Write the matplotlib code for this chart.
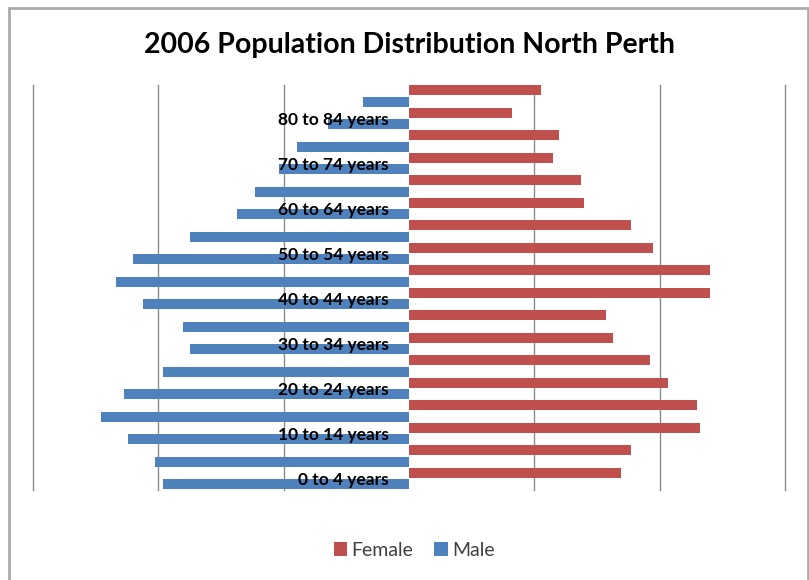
import matplotlib
matplotlib.use("Agg")
import matplotlib.pyplot as plt
import numpy as np
from matplotlib.patches import Rectangle

# Age groups from youngest to oldest
age_groups = ["0 to 4 years", "5 to 9 years", "10 to 14 years", "15 to 19 years",
              "20 to 24 years", "25 to 29 years", "30 to 34 years", "35 to 39 years",
              "40 to 44 years", "45 to 49 years", "50 to 54 years", "55 to 59 years",
              "60 to 64 years", "65 to 69 years", "70 to 74 years", "75 to 79 years",
              "80 to 84 years", "85 years and over"]

female = [339, 355, 465, 459, 414, 384, 325, 314, 480, 480, 390, 355,
          280, 275, 229, 240, 165, 210]
male = [393, 405, 449, 491, 454, 393, 350, 360, 424, 468, 440, 350,
        275, 245, 208, 178, 130, 74]

x_ticks = [-600, -400, -200, 0, 200, 400, 600]

RED = "#C0504D"
BLUE = "#4F81BD"
FONT = ["Lato", "DejaVu Sans"]

fig = plt.figure(figsize=(8.09, 5.8), dpi=100)
fig.patch.set_facecolor("white")

# outer chart border
fig.patches.append(Rectangle((9 / 809, -0.05), 799 / 809, 1 - 8 / 580 + 0.05,
                             transform=fig.transFigure, fill=False,
                             edgecolor="#ababab", linewidth=2))

ax = fig.add_axes([33 / 809, 1 - 489.75 / 580, 752 / 809, 405 / 580])
ax.spines["left"].set_position(("data", 0))

y = np.arange(len(age_groups))
h = 0.44
ax.barh(y + 0.25, female, height=h, color=RED, label="Female", zorder=2)
ax.barh(y - 0.25, [-v for v in male], height=h, color=BLUE, label="Male", zorder=2)

ax.set_xlim(x_ticks[0], x_ticks[-1])
ax.set_ylim(-0.5, len(age_groups) - 0.5)

for xv in x_ticks:
    if xv != 0:
        ax.axvline(xv, color="#8c8c8c", linewidth=1, zorder=1, clip_on=False)

ax.set_xticks([])
ax.set_yticks(y[::2])
ax.set_yticklabels(age_groups[::2])
for s in ax.spines.values():
    s.set_visible(False)
ax.tick_params(axis="y", length=0, pad=14.5)
for lbl in ax.get_yticklabels():
    lbl.set_fontfamily(FONT)
    lbl.set_fontweight("bold")
    lbl.set_fontsize(12.5)
    lbl.set_color("black")
ax.yaxis.set_zorder(5)

fig.text(409 / 809, 1 - 45 / 580, "2006 Population Distribution North Perth",
         ha="center", va="center", fontsize=20.5, fontweight="bold",
         fontfamily=FONT, color="black")

leg = fig.legend(loc="center", bbox_to_anchor=(414 / 809, 1 - 550 / 580), ncol=2,
                 frameon=False, handlelength=0.7, handleheight=0.7,
                 handletextpad=0.2, columnspacing=1.1,
                 prop={"family": FONT, "size": 14})
for t in leg.get_texts():
    t.set_color("#404040")

fig.savefig("out.png", dpi=100, facecolor="white")
